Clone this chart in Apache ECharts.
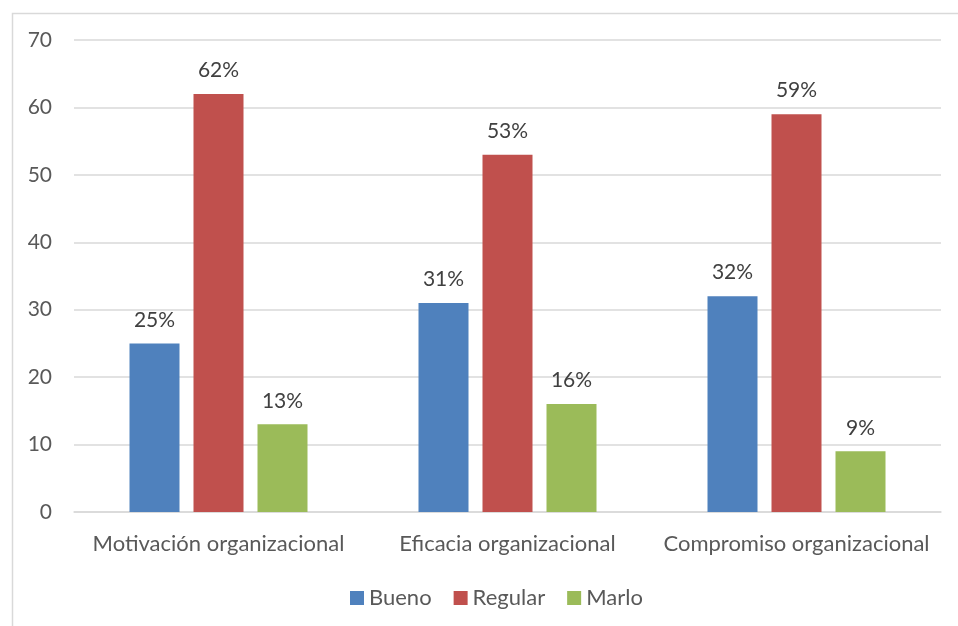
<!DOCTYPE html>
<html>
<head>
<meta charset="utf-8">
<script src="https://cdn.jsdelivr.net/npm/echarts@6/dist/echarts.min.js"></script>
<style>html,body{margin:0;padding:0;background:#fff;}#c{width:958px;height:626px;}</style>
</head>
<body>
<div id="c"></div>
<script>
const categories = ['Motivación organizacional', 'Eficacia organizacional', 'Compromiso organizacional'];
const seriesNames = ['Bueno', 'Regular', 'Marlo'];
const bueno = [25, 31, 32];
const regular = [62, 53, 59];
const marlo = [13, 16, 9];
const yTicks = [0, 10, 20, 30, 40, 50, 60, 70];
const colors = ['#4F81BD', '#C0504D', '#9BBB59'];

const font = "Lato, 'Open Sans', sans-serif";
const txt = '#595959';
const chart = echarts.init(document.getElementById('c'), null, {renderer: 'canvas'});
const values = [bueno, regular, marlo];
chart.setOption({
  animation: false,
  color: colors,
  graphic: [{
    type: 'rect', left: 10, top: 11,
    shape: {width: 980, height: 640},
    style: {fill: 'none', stroke: '#D9D9D9', lineWidth: 1.5}
  }],
  grid: {left: 74, right: 17, top: 40, bottom: 114},
  legend: {
    data: seriesNames, bottom: 12, left: 345,
    itemWidth: 14, itemHeight: 14, itemGap: 22, icon: 'rect',
    textStyle: {fontFamily: font, fontSize: 22, color: txt}
  },
  xAxis: {
    type: 'category', data: categories,
    axisLine: {lineStyle: {color: '#D9D9D9', width: 1.5}},
    axisTick: {show: false},
    axisLabel: {fontFamily: font, fontSize: 22, color: txt, margin: 21, interval: 0}
  },
  yAxis: {
    type: 'value', min: yTicks[0], max: yTicks[yTicks.length - 1], interval: 10,
    axisLine: {show: false}, axisTick: {show: false},
    splitLine: {lineStyle: {color: '#D9D9D9', width: 1.5}},
    axisLabel: {fontFamily: font, fontSize: 21, color: txt, margin: 22}
  },
  series: seriesNames.map((n, i) => ({
    name: n, type: 'bar', data: values[i],
    barWidth: 50, barGap: '28%',
    label: {show: true, position: 'top', distance: 13, formatter: '{c}%',
      fontFamily: font, fontSize: 21, color: '#404040'}
  }))
});
</script>
</body>
</html>
